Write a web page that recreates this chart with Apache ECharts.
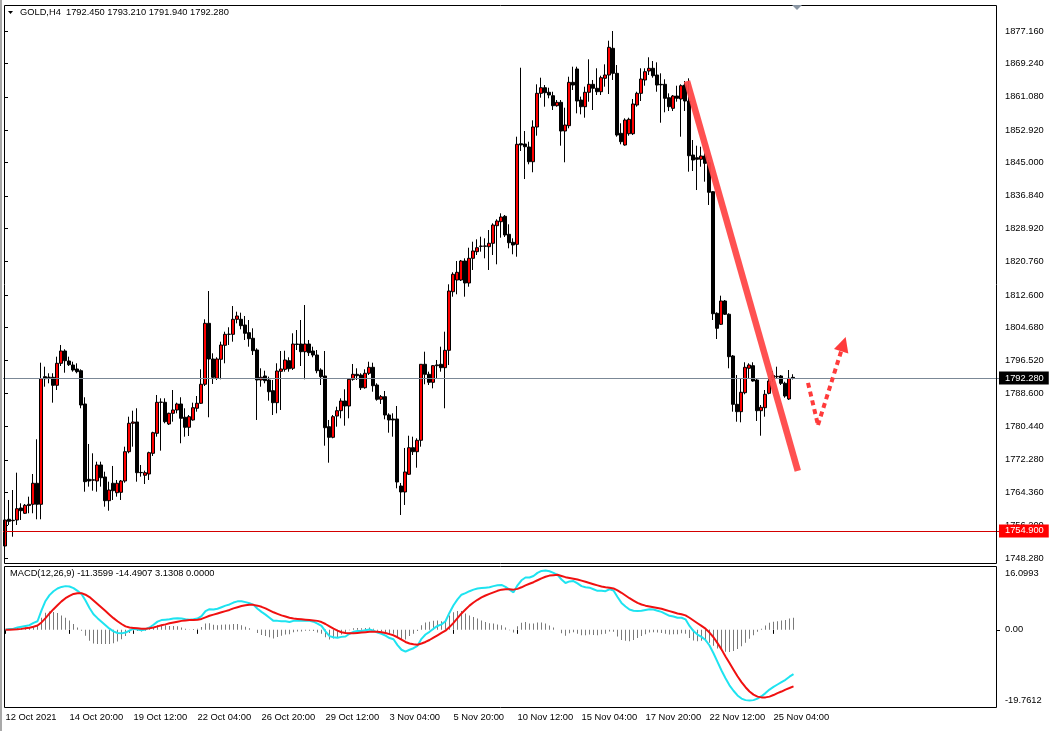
<!DOCTYPE html>
<html>
<head>
<meta charset="utf-8">
<script src="https://cdn.jsdelivr.net/npm/echarts@6/dist/echarts.min.js"></script>
<style>
html,body{margin:0;padding:0;background:#fff;}
#c{width:1051px;height:731px;}
</style>
</head>
<body>
<div id="c"></div>
<script>
// ---------- DATA ----------
const xTickLabels = ['12 Oct 2021','14 Oct 20:00','19 Oct 12:00','22 Oct 04:00','26 Oct 20:00','29 Oct 12:00','3 Nov 04:00','5 Nov 20:00','10 Nov 12:00','15 Nov 04:00','17 Nov 20:00','22 Nov 12:00','25 Nov 04:00'];
const priceTicks = [1877.16,1869.24,1861.08,1852.92,1845.00,1836.84,1828.92,1820.76,1812.60,1804.68,1796.52,1788.60,1780.44,1772.28,1764.36,1756.20,1748.28];
const macdTicks = [16.0993, 0, -19.7612];
const lastPrice = 1792.28;
const levelLine = 1754.90;

const open = [1751.21,1757.74,1757.40,1757.57,1760.50,1759.21,1761.10,1761.41,1766.55,1761.41,
1792.62,1792.40,1792.47,1790.51,1795.89,1798.90,1796.45,1795.47,1794.50,1794.08,
1785.94,1767.52,1767.30,1767.11,1771.02,1768.09,1762.29,1766.55,1764.24,1764.34,
1767.11,1774.27,1781.22,1781.54,1769.14,1768.50,1768.82,1773.88,1778.77,1786.35,
1786.35,1781.05,1783.66,1784.47,1785.94,1782.69,1780.24,1782.03,1784.89,1786.11,
1790.76,1805.67,1796.94,1792.22,1796.87,1800.29,1802.98,1802.98,1806.65,1806.65,
1805.26,1803.38,1802.01,1799.14,1791.81,1792.79,1791.81,1789.19,1786.26,1793.93,
1794.42,1796.53,1794.67,1800.61,1800.61,1798.73,1800.61,1798.90,1797.92,1794.25,
1792.79,1780.39,1777.79,1782.99,1784.30,1786.67,1785.45,1791.98,1793.20,1793.03,
1789.92,1793.45,1794.91,1790.58,1787.09,1787.73,1783.25,1782.27,1782.27,1765.88,
1764.42,1768.75,1775.25,1774.27,1777.06,1795.65,1793.20,1791.24,1795.30,1795.65,
1794.82,1799.07,1813.40,1816.26,1816.26,1820.91,1815.53,1821.57,1823.19,1824.50,
1824.50,1824.41,1825.24,1829.54,1830.52,1831.84,1827.44,1825.48,1824.99,1849.60,
1849.52,1848.79,1845.19,1853.68,1861.92,1863.29,1862.17,1861.34,1858.89,1859.72,
1852.70,1854.00,1864.61,1867.87,1860.28,1858.65,1862.17,1864.12,1863.15,1862.31,
1865.59,1866.40,1872.93,1866.81,1852.14,1849.28,1852.04,1852.04,1859.06,1861.92,
1865.18,1867.38,1868.04,1866.40,1864.12,1864.12,1860.85,1858.25,1861.26,1860.53,
1863.95,1860.04,1846.83,1846.17,1845.78,1846.59,1844.95,1837.86,1808.12,1805.43,
1811.13,1807.88,1797.68,1785.86,1784.06,1788.70,1794.67,1795.31,1791.81,1784.30,
1785.03,1788.55,1792.00,1792.60,1792.79,1791.00,1787.16,1792.45];
const high = [1758.79,1762.46,1764.90,1769.14,1761.65,1761.48,1763.27,1768.82,1777.31,1796.04,
1795.06,1793.45,1793.45,1797.51,1800.37,1799.32,1797.51,1796.28,1795.89,1794.42,
1787.58,1776.16,1773.88,1771.83,1771.83,1769.38,1766.94,1770.78,1767.35,1767.35,
1775.50,1782.83,1784.30,1784.89,1771.02,1769.63,1774.27,1779.16,1788.14,1787.33,
1787.33,1783.81,1789.36,1786.26,1787.58,1784.89,1783.25,1786.26,1787.89,1794.42,
1806.65,1813.57,1798.34,1797.36,1801.18,1803.62,1804.70,1809.90,1808.51,1808.27,
1807.46,1806.48,1804.45,1799.56,1794.67,1794.08,1792.62,1791.81,1795.89,1798.90,
1798.97,1797.36,1803.23,1804.03,1806.48,1810.15,1801.59,1799.95,1799.14,1794.67,
1798.90,1782.03,1783.25,1785.28,1787.33,1789.53,1792.22,1795.72,1794.67,1793.45,
1794.42,1796.28,1796.04,1791.00,1788.14,1789.12,1783.66,1783.66,1785.45,1766.62,
1775.18,1778.18,1777.94,1777.55,1795.65,1798.73,1793.84,1795.47,1796.70,1799.95,
1803.62,1815.21,1818.15,1820.91,1821.16,1821.57,1824.16,1825.63,1826.21,1826.85,
1826.46,1828.49,1830.13,1831.11,1832.57,1832.16,1829.89,1826.46,1851.31,1868.18,
1852.70,1850.09,1855.32,1864.12,1865.74,1863.95,1863.29,1862.31,1860.28,1860.28,
1858.40,1865.98,1868.43,1868.43,1861.10,1863.54,1870.24,1865.18,1868.04,1866.23,
1869.01,1874.79,1877.16,1868.84,1854.59,1855.81,1855.96,1860.53,1862.31,1868.04,
1868.04,1870.73,1869.82,1869.50,1866.81,1865.35,1861.92,1861.51,1863.78,1864.12,
1864.93,1865.59,1850.50,1849.11,1848.86,1847.25,1845.61,1838.03,1808.36,1812.43,
1811.37,1808.12,1797.92,1793.03,1792.05,1796.14,1795.89,1796.14,1792.05,1785.69,
1789.36,1792.22,1794.01,1795.06,1793.03,1791.39,1794.25,1793.21];
const low = [1750.23,1756.35,1753.48,1756.35,1757.57,1759.04,1759.21,1759.21,1757.74,1757.74,
1790.17,1791.00,1786.26,1789.36,1795.23,1793.59,1795.23,1793.84,1793.45,1784.89,
1764.49,1765.72,1764.73,1764.49,1765.72,1760.82,1759.84,1762.46,1763.27,1762.46,
1766.69,1773.88,1775.50,1766.94,1768.16,1766.37,1767.35,1773.22,1777.94,1774.52,
1781.22,1780.80,1781.61,1783.66,1776.33,1777.94,1778.11,1781.86,1784.06,1785.94,
1790.34,1782.69,1790.83,1791.81,1791.98,1795.89,1800.37,1801.18,1805.67,1804.21,
1801.59,1799.95,1797.92,1782.03,1790.17,1791.00,1786.75,1783.25,1783.66,1784.47,
1793.84,1793.84,1794.25,1799.14,1795.23,1791.98,1797.68,1797.36,1793.45,1790.58,
1775.74,1771.58,1777.55,1780.39,1782.44,1780.63,1782.44,1791.64,1791.81,1789.36,
1789.68,1793.03,1788.94,1786.75,1785.94,1782.19,1778.92,1777.94,1765.32,1758.79,
1761.24,1768.58,1773.46,1770.36,1775.50,1790.76,1790.58,1789.77,1792.22,1793.84,
1784.89,1795.47,1812.18,1812.77,1816.02,1812.18,1814.62,1818.71,1822.38,1823.19,
1821.57,1818.71,1822.38,1820.10,1826.61,1826.78,1824.02,1822.55,1821.96,1847.81,
1840.96,1844.56,1842.61,1851.56,1860.85,1858.65,1860.70,1857.84,1858.65,1849.11,
1845.05,1853.36,1862.73,1857.03,1856.78,1855.96,1859.87,1857.84,1861.51,1861.51,
1863.54,1861.75,1865.18,1851.31,1849.45,1849.11,1851.56,1851.72,1858.65,1860.04,
1863.78,1866.40,1865.74,1862.31,1854.73,1857.28,1857.59,1857.59,1859.87,1851.31,
1857.59,1842.75,1842.92,1838.27,1843.97,1840.31,1834.61,1806.48,1801.83,1805.26,
1807.70,1794.67,1784.06,1781.61,1781.46,1788.31,1792.05,1791.39,1781.78,1778.18,
1782.83,1788.31,1791.39,1792.05,1790.58,1787.48,1786.92,1791.94];
const close = [1757.57,1757.25,1757.50,1760.33,1759.84,1761.17,1761.40,1766.55,1761.41,1792.13,
1792.13,1792.50,1790.51,1795.89,1798.90,1796.53,1795.55,1794.25,1793.84,1785.69,
1766.94,1767.11,1767.40,1771.02,1767.91,1762.29,1764.90,1764.73,1766.55,1767.11,
1774.27,1781.22,1781.54,1769.14,1769.20,1769.14,1774.03,1778.92,1786.35,1786.40,
1781.61,1783.66,1784.47,1785.94,1782.44,1780.24,1782.83,1785.03,1786.11,1790.76,
1805.67,1796.94,1792.47,1796.94,1800.37,1802.98,1803.00,1806.65,1807.46,1805.09,
1803.23,1801.91,1798.97,1791.81,1792.47,1791.64,1788.94,1786.26,1794.01,1794.50,
1796.70,1794.57,1800.61,1800.50,1798.73,1800.61,1798.49,1797.92,1794.08,1792.62,
1780.14,1777.79,1782.83,1784.30,1786.67,1785.45,1791.98,1793.20,1792.86,1789.92,
1793.45,1794.91,1790.41,1787.09,1787.73,1783.25,1782.03,1782.03,1766.86,1764.42,
1769.31,1775.25,1774.27,1777.06,1795.65,1793.20,1791.24,1795.31,1795.50,1794.82,
1799.07,1813.57,1817.66,1818.15,1820.91,1815.53,1821.57,1823.36,1824.16,1824.55,
1824.60,1825.24,1829.71,1830.69,1831.67,1827.27,1825.38,1824.82,1849.45,1849.30,
1848.86,1845.19,1853.68,1861.92,1863.29,1862.07,1861.51,1858.89,1859.72,1852.70,
1854.17,1864.61,1863.95,1860.04,1858.65,1862.17,1864.12,1863.15,1862.31,1865.74,
1866.40,1873.17,1866.81,1851.72,1850.09,1855.39,1855.56,1859.31,1861.92,1865.42,
1867.21,1868.04,1866.23,1863.95,1864.00,1860.70,1858.65,1861.26,1860.70,1863.78,
1860.04,1846.66,1845.61,1845.78,1846.59,1844.80,1837.71,1808.02,1804.45,1811.13,
1807.88,1797.51,1785.86,1784.06,1788.80,1794.91,1795.47,1791.56,1784.30,1785.13,
1788.31,1791.56,1792.90,1792.70,1791.00,1787.89,1792.22,1792.28];

const macdMain = [0,0.2,0.3,0.6,0.8,1.0,1.2,1.8,2.2,5.0,
7.4,8.9,9.9,10.6,11.0,11.2,11.1,10.7,10.0,9.2,
7.5,5.6,4.0,3.0,2.1,1.2,0.3,-0.4,-0.8,-0.9,
-0.7,-0.2,0.3,0.1,-0.1,0.1,0.6,1.3,2.1,2.5,
2.6,2.7,2.9,3.0,2.9,2.7,2.6,2.7,2.9,3.5,
4.8,5.3,5.2,5.4,5.8,6.2,6.5,7.0,7.3,7.3,
7.1,6.8,6.4,5.4,4.6,3.9,3.1,2.3,2.3,2.2,
2.2,2.0,2.3,2.4,2.3,2.4,2.3,2.1,1.6,1.0,
-0.4,-1.6,-1.9,-2.0,-1.8,-1.7,-1.0,-0.5,-0.3,-0.3,
-0.1,0.1,-0.2,-0.7,-1.0,-1.5,-2.1,-2.4,-3.9,-5.1,
-5.6,-5.1,-4.7,-4.1,-2.3,-1.2,-0.5,0.3,1.0,1.4,
2.2,4.4,6.3,7.8,9.0,9.4,9.9,10.3,10.6,10.7,
10.8,10.9,11.2,11.4,11.5,11.0,10.3,9.6,11.4,12.7,
13.4,13.4,13.8,14.6,15.1,15.2,15.0,14.6,14.1,12.9,
12.0,12.4,12.5,11.9,11.2,10.9,10.8,10.4,10.0,10.0,
9.9,10.4,10.1,8.4,6.9,6.0,5.2,4.9,4.8,4.9,
5.1,5.3,5.2,4.9,4.6,4.1,3.6,3.4,3.1,3.1,
2.7,1.0,-0.3,-1.2,-1.8,-2.6,-4.0,-6.0,-8.2,-10.4,
-12.4,-14.2,-15.6,-16.8,-17.6,-18.0,-18.1,-18.0,-17.6,-17.0,
-16.2,-15.3,-14.6,-14.0,-13.4,-12.8,-12.0,-11.3599];
const macdSignal = [0,0.05,0.1,0.15,0.25,0.4,0.55,0.8,1.1,1.9,
3.0,4.2,5.3,6.3,7.3,8.1,8.7,9.2,9.4,9.4,
9.0,8.4,7.5,6.6,5.7,4.8,3.9,3.0,2.2,1.5,
0.9,0.6,0.5,0.4,0.3,0.3,0.4,0.6,0.9,1.2,
1.4,1.7,1.9,2.1,2.3,2.4,2.5,2.5,2.6,2.8,
3.2,3.6,3.9,4.2,4.5,4.8,5.1,5.5,5.8,6.1,
6.3,6.4,6.4,6.2,5.9,5.5,5.0,4.5,4.1,3.7,
3.4,3.1,2.9,2.8,2.7,2.6,2.5,2.4,2.3,2.0,
1.5,0.9,0.3,-0.2,-0.6,-0.8,-0.9,-0.9,-0.8,-0.7,
-0.6,-0.5,-0.5,-0.5,-0.6,-0.8,-1.1,-1.4,-1.9,-2.5,
-3.1,-3.5,-3.7,-3.8,-3.5,-3.1,-2.6,-2.0,-1.4,-0.8,
-0.2,0.7,1.8,3.0,4.2,5.2,6.2,7.0,7.7,8.3,
8.8,9.2,9.6,10.0,10.3,10.4,10.4,10.3,10.5,10.9,
11.4,11.8,12.2,12.7,13.2,13.6,13.9,14.0,14.1,13.8,
13.5,13.3,13.1,12.9,12.6,12.3,12.0,11.7,11.4,11.1,
10.9,10.8,10.6,10.1,9.5,8.8,8.1,7.5,6.9,6.5,
6.2,6.0,5.8,5.6,5.4,5.1,4.8,4.5,4.2,4.0,
3.7,3.1,2.4,1.7,1.0,0.3,-0.7,-1.9,-3.4,-5.0,
-6.8,-8.5,-10.2,-11.9,-13.4,-14.7,-15.8,-16.6,-17.1,-17.3,
-17.3,-17.1,-16.7,-16.2,-15.8,-15.3,-14.9,-14.4907];
const macdHist = [0,0.15,0.2,0.45,0.55,0.6,0.65,1.0,1.1,3.1,
4.4,4.7,4.6,4.3,3.7,3.1,2.4,1.5,0.6,-0.2,
-1.5,-2.8,-3.5,-3.6,-3.6,-3.6,-3.6,-3.4,-3.0,-2.4,
-1.6,-0.8,-0.2,-0.3,-0.4,-0.2,0.2,0.7,1.2,1.3,
1.2,1.0,1.0,0.9,0.6,0.3,0.1,0.2,0.3,0.7,
1.6,1.7,1.3,1.2,1.3,1.4,1.4,1.5,1.5,1.2,
0.8,0.4,0.0,-0.8,-1.3,-1.6,-1.9,-2.2,-1.8,-1.5,
-1.2,-1.1,-0.6,-0.4,-0.4,-0.2,-0.2,-0.3,-0.7,-1.0,
-1.9,-2.5,-2.2,-1.8,-1.2,-0.9,-0.1,0.4,0.5,0.4,
0.5,0.6,0.3,-0.2,-0.4,-0.7,-1.0,-1.0,-2.0,-2.6,
-2.5,-1.6,-1.0,-0.3,1.2,1.9,2.1,2.3,2.4,2.2,
2.4,3.7,4.5,4.8,4.8,4.2,3.7,3.3,2.9,2.4,
2.0,1.7,1.6,1.4,1.2,0.6,-0.1,-0.7,0.9,1.8,
2.0,1.6,1.6,1.9,1.9,1.6,1.1,0.6,0.0,-0.9,
-1.5,-0.9,-0.6,-1.0,-1.4,-1.4,-1.2,-1.3,-1.4,-1.1,
-1.0,-0.4,-0.5,-1.7,-2.6,-2.8,-2.9,-2.6,-2.1,-1.6,
-1.1,-0.7,-0.6,-0.7,-0.8,-1.0,-1.2,-1.1,-1.1,-0.9,
-1.0,-2.1,-2.7,-2.9,-2.8,-2.9,-3.3,-4.1,-4.8,-5.4,
-5.6,-5.7,-5.4,-4.9,-4.2,-3.3,-2.3,-1.4,-0.5,0.3,
1.1,1.8,2.1,2.2,2.4,2.5,2.9,3.1308];

// hand-drawn annotations, in (bar index, price) units
const trendLine = [[170.5, 1864.9], [198.2, 1769.6]];
const arrowDown = [[200.75, 1791.1], [203.25, 1780.8]];
const arrowUp = [[203.25, 1780.8], [209.6, 1800.6]];

// ---------- BUILD ----------
const SLOTS = 249;
const slots = [];
for (let i = 0; i < SLOTS; i++) slots.push(String(i));
const candles = open.map((o, i) => [o, close[i], low[i], high[i]]);
const FONT = "'Liberation Sans',Arial,sans-serif";
const FS = 9.3;
const FSX = 9.4;
const tickEvery = 16;
const showTick = (idx) => idx % tickEvery === 0 && idx / tickEvery < xTickLabels.length;

const chart = echarts.init(document.getElementById('c'), null, {renderer: 'canvas'});
chart.setOption({
  animation: false,
  backgroundColor: '#ffffff',
  textStyle: {fontFamily: FONT},
  grid: [
    {left: 3, width: 996, top: 5, height: 558, show: false},
    {left: 3.5, width: 996, top: 567, height: 140, show: false}
  ],
  xAxis: [
    {type: 'category', gridIndex: 0, data: slots, boundaryGap: true,
     axisLine: {show: false}, axisTick: {show: false}, axisLabel: {show: false}, splitLine: {show: false}},
    {type: 'category', gridIndex: 1, data: slots, boundaryGap: true,
     axisLine: {show: false},
     axisTick: {show: true, interval: (idx) => showTick(idx), alignWithLabel: true, length: 4, lineStyle: {color: '#000'}},
     axisLabel: {show: true, interval: (idx) => showTick(idx), hideOverlap: false,
       formatter: (v, idx) => xTickLabels[Math.round(Number(v) / tickEvery)] || '',
       align: 'left', margin: 6, color: '#000', fontSize: FSX, fontFamily: FONT},
     splitLine: {show: false}},
    {type: 'value', gridIndex: 0, min: -0.5, max: SLOTS - 0.5, show: false}
  ],
  yAxis: [
    {type: 'value', gridIndex: 0, position: 'right', offset: -2, min: 1747.05, max: 1883.52,
     splitLine: {show: false}, axisLine: {show: false},
     axisTick: {show: true, customValues: priceTicks, length: 3, lineStyle: {color: '#000'}},
     axisLabel: {show: true, customValues: priceTicks, formatter: (v) => Number(v).toFixed(3), margin: 8, color: '#000', fontSize: FS, fontFamily: FONT}},
    {type: 'value', gridIndex: 1, position: 'right', offset: -2.5, min: -19.7612, max: 16.0993,
     splitLine: {show: false}, axisLine: {show: false},
     axisTick: {show: true, customValues: [0], length: 3, lineStyle: {color: '#000'}},
     axisLabel: {show: true, customValues: macdTicks, margin: 8, color: '#000', fontSize: FS, fontFamily: FONT,
       formatter: (v) => {
         const n = Number(v);
         if (n === 0) return '0.00';
         return n > 0 ? '{t|' + n.toFixed(4) + '}' : '{b|' + n.toFixed(4) + '}';
       },
       rich: {
         t: {padding: [13, 0, 0, 0], fontSize: FS, color: '#000', fontFamily: FONT},
         b: {padding: [0, 0, 13, 0], fontSize: FS, color: '#000', fontFamily: FONT}
       }}}
  ],
  series: [
    {type: 'candlestick', name: 'GOLD,H4', xAxisIndex: 0, yAxisIndex: 0, data: candles, barWidth: 3,
     itemStyle: {color: '#ff0000', color0: '#000000', borderColor: '#000000', borderColor0: '#000000', borderWidth: 1},
     markLine: {silent: true, symbol: ['none', 'none'], animation: false,
       data: [
         {yAxis: lastPrice, lineStyle: {color: '#7b8896', width: 1, type: 'solid'},
          label: {show: true, position: 'end', distance: 0, formatter: lastPrice.toFixed(3), color: '#fff', backgroundColor: '#000', padding: [2, 5, 2, 6], fontSize: FS, fontFamily: FONT}},
         {yAxis: levelLine, lineStyle: {color: '#d40000', width: 1, type: 'solid'},
          label: {show: true, position: 'end', distance: 0, formatter: levelLine.toFixed(3), color: '#fff', backgroundColor: '#ff0000', padding: [2, 5, 2, 6], fontSize: FS, fontFamily: FONT}}
       ]}},
    {type: 'line', name: 'trend', xAxisIndex: 2, yAxisIndex: 0, data: trendLine, symbol: 'none', z: 5,
     lineStyle: {color: 'rgba(255,72,72,0.95)', width: 6.5, cap: 'butt'}},
    {type: 'lines', name: 'arrowDown', coordinateSystem: 'cartesian2d', xAxisIndex: 2, yAxisIndex: 0, z: 5,
     symbol: ['none', 'none'],
     lineStyle: {color: '#ff3b3b', width: 4, type: [5, 4], opacity: 1, curveness: 0},
     data: [{coords: arrowDown}]},
    {type: 'lines', name: 'arrowUp', coordinateSystem: 'cartesian2d', xAxisIndex: 2, yAxisIndex: 0, z: 5,
     symbol: ['none', 'triangle'], symbolSize: 15,
     lineStyle: {color: '#ff3b3b', width: 4, type: [5, 4], opacity: 1, curveness: 0},
     itemStyle: {color: '#ff3b3b'},
     data: [{coords: arrowUp}]},
    {type: 'bar', name: 'hist', xAxisIndex: 1, yAxisIndex: 1, data: macdHist, barWidth: 1,
     itemStyle: {color: '#7a7a7a'}},
    {type: 'line', name: 'MACD', xAxisIndex: 1, yAxisIndex: 1, data: macdMain, symbol: 'none',
     lineStyle: {color: '#1ee3f0', width: 2}},
    {type: 'line', name: 'Signal', xAxisIndex: 1, yAxisIndex: 1, data: macdSignal, symbol: 'none',
     lineStyle: {color: '#f01010', width: 2}}
  ],
  graphic: [
    {type: 'rect', shape: {x: 0, y: 0, width: 2, height: 731}, style: {fill: '#a9a9a9'}, silent: true},
    {type: 'rect', shape: {x: 4.5, y: 5.5, width: 992, height: 558}, style: {fill: 'none', stroke: '#000', lineWidth: 1}, silent: true, z: 10},
    {type: 'rect', shape: {x: 4.5, y: 566.5, width: 992, height: 141}, style: {fill: 'none', stroke: '#000', lineWidth: 1}, silent: true, z: 10},
    {type: 'polygon', shape: {points: [[792, 5], [802, 5], [797, 10]]}, style: {fill: '#8a96a3'}, silent: true, z: 11},
    {type: 'polygon', shape: {points: [[8, 11], [13, 11], [10.5, 14]]}, style: {fill: '#000'}, silent: true, z: 11},
    {type: 'text', x: 20, y: 8, style: {text: 'GOLD,H4  1792.450 1793.210 1791.940 1792.280', fill: '#000', font: FS + "px " + FONT}, silent: true, z: 11},
    {type: 'text', x: 10, y: 569, style: {text: 'MACD(12,26,9) -11.3599 -14.4907 3.1308 0.0000', fill: '#000', font: FS + "px " + FONT}, silent: true, z: 11}
  ]
});
</script>
</body>
</html>
